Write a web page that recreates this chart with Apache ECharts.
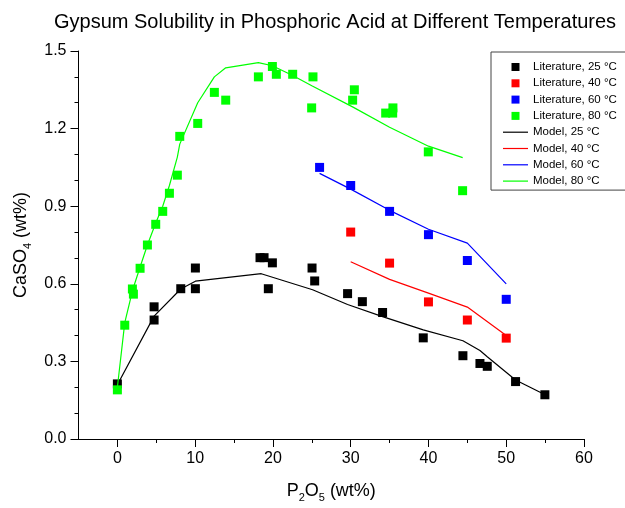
<!DOCTYPE html>
<html>
<head>
<meta charset="utf-8">
<script src="https://cdn.jsdelivr.net/npm/echarts@6/dist/echarts.min.js"></script>
<style>html,body{margin:0;padding:0;background:#fff}#c{width:625px;height:508px}</style>
</head>
<body>
<div id="c"></div>
<script>
// ---- data ----
const lit25X = [0, 4.72, 4.72, 8.15, 10.03, 10.03, 18.34, 18.86, 19.41, 19.93, 25.03, 25.37, 29.6, 31.5, 34.1, 39.33, 44.43, 46.62, 47.56, 51.2, 54.97];
const lit25Y = [0.213, 0.511, 0.46, 0.581, 0.661, 0.581, 0.701, 0.701, 0.581, 0.681, 0.661, 0.611, 0.562, 0.531, 0.489, 0.391, 0.322, 0.292, 0.281, 0.222, 0.171];
const lit40X = [30, 35, 40, 45, 50];
const lit40Y = [0.80, 0.68, 0.53, 0.46, 0.39];
const lit60X = [26, 30, 35, 40, 45, 50];
const lit60Y = [1.05, 0.98, 0.88, 0.79, 0.69, 0.54];
const lit80X = [0, 0.95, 1.93, 2.06, 2.92, 3.86, 4.93, 5.83, 6.69, 7.71, 8.02, 10.33, 12.47, 13.93, 18.13, 19.93, 20.44, 22.54, 25.15, 24.98, 30.47, 30.25, 34.5, 35.4, 35.43, 39.98, 44.39];
const lit80Y = [0.19, 0.44, 0.58, 0.56, 0.66, 0.75, 0.83, 0.88, 0.95, 1.02, 1.17, 1.22, 1.34, 1.31, 1.40, 1.44, 1.41, 1.41, 1.40, 1.28, 1.35, 1.31, 1.26, 1.26, 1.28, 1.11, 0.96];

const mod25X = [0, 4.72, 8.15, 10.03, 18.5, 25.1, 29.6, 34.1, 39.33, 44.43, 46.62, 47.56, 51.2, 55];
const mod25Y = [0.21, 0.475, 0.58, 0.61, 0.639, 0.577, 0.52, 0.473, 0.422, 0.38, 0.342, 0.318, 0.228, 0.171];
const mod40X = [30, 35, 40, 45, 50];
const mod40Y = [0.685, 0.617, 0.564, 0.51, 0.40];
const mod60X = [26, 30, 35, 40, 45, 50];
const mod60Y = [1.027, 0.966, 0.884, 0.811, 0.757, 0.60];
const mod80X = [0, 0.95, 2.0, 2.92, 3.86, 4.93, 5.83, 6.69, 7.71, 8.02, 10.33, 12.47, 13.93, 18.13, 19.93, 22.54, 25.0, 30.3, 35.0, 40.0, 44.4];
const mod80Y = [0.20, 0.45, 0.58, 0.665, 0.75, 0.835, 0.90, 0.98, 1.09, 1.14, 1.30, 1.40, 1.435, 1.455, 1.443, 1.405, 1.366, 1.283, 1.205, 1.132, 1.088];

const xMajorTicks = [0, 10, 20, 30, 40, 50, 60];
const xMinorTicks = [5, 15, 25, 35, 45, 55];

const names = ['Literature, 25 °C', 'Literature, 40 °C', 'Literature, 60 °C', 'Literature, 80 °C',
               'Model, 25 °C', 'Model, 40 °C', 'Model, 60 °C', 'Model, 80 °C'];
const colors = ['#000000', '#ff0000', '#0000ff', '#00ff00'];

function zip(xs, ys) { return xs.map((x, i) => [x, ys[i]]); }

const litSets = [[lit25X, lit25Y], [lit40X, lit40Y], [lit60X, lit60Y], [lit80X, lit80Y]];
const modSets = [[mod25X, mod25Y], [mod40X, mod40Y], [mod60X, mod60Y], [mod80X, mod80Y]];

const FONT = 'Liberation Sans, Arial, sans-serif';
const series = [];
litSets.forEach((s, i) => {
  series.push({
    name: names[i], type: 'scatter', symbol: 'rect', symbolSize: 9,
    itemStyle: { color: colors[i], opacity: 1 }, data: zip(s[0], s[1]), z: 2
  });
});
modSets.forEach((s, i) => {
  series.push({
    name: names[4 + i], type: 'line', symbol: 'none', showSymbol: false,
    lineStyle: { color: colors[i], width: 1.2 }, itemStyle: { color: colors[i] },
    data: zip(s[0], s[1]), z: 3
  });
});

const sq = 'path://M0,0H1V1H0Z';
const ln = 'path://M0,0H25V1.2H0Z';
const chart = echarts.init(document.getElementById('c'));
chart.setOption({
  animation: false,
  backgroundColor: '#fff',
  textStyle: { fontFamily: FONT },
  title: {
    text: 'Gypsum Solubility in Phosphoric Acid at Different Temperatures',
    left: 49, top: 7,
    textStyle: { fontSize: 20, fontWeight: 'normal', color: '#000', fontFamily: FONT }
  },
  grid: { left: 78.5, right: 41, top: 51, bottom: 63.5 },
  legend: {
    orient: 'vertical', left: 491, top: 52,
    padding: [9, 12, 3, 12], itemGap: 4.3,
    itemWidth: 25, itemHeight: 8,
    borderColor: '#444', borderWidth: 1, borderRadius: 0, backgroundColor: '#fff',
    textStyle: { fontSize: 11.5, color: '#000', fontFamily: FONT },
    data: names.map((n, i) => ({ name: n, icon: i < 4 ? sq : ln }))
  },
  xAxis: [{
    type: 'value', min: -5, max: 60, position: 'bottom',
    name: '{a|P}{s|2}{a|O}{s|5}{a| (wt%)}',
    nameLocation: 'middle', nameGap: 40,
    nameTextStyle: {
      rich: {
        a: { fontSize: 18, lineHeight: 24, color: '#000', fontFamily: FONT },
        s: { fontSize: 11, lineHeight: 11, verticalAlign: 'bottom', color: '#000', fontFamily: FONT }
      }
    },
    axisLine: { show: true, onZero: false, lineStyle: { color: '#000', width: 1 } },
    axisTick: { show: true, length: 8, customValues: xMajorTicks, lineStyle: { color: '#000' } },
    axisLabel: { customValues: xMajorTicks, fontSize: 16, color: '#000', margin: 12, fontFamily: FONT },
    splitLine: { show: false }
  }, {
    type: 'value', min: -5, max: 60, position: 'bottom',
    axisLine: { show: false, onZero: false },
    axisTick: { show: true, length: 4, customValues: xMinorTicks, lineStyle: { color: '#000' } },
    axisLabel: { show: false },
    splitLine: { show: false }
  }],
  yAxis: {
    type: 'value', min: 0, max: 1.5, interval: 0.3,
    name: '{a|CaSO}{s|4}{a| (wt%)}',
    nameLocation: 'middle', nameGap: 39,
    nameTextStyle: {
      rich: {
        a: { fontSize: 18, lineHeight: 24, color: '#000', fontFamily: FONT },
        s: { fontSize: 11, lineHeight: 11, verticalAlign: 'bottom', color: '#000', fontFamily: FONT }
      }
    },
    axisLine: { show: true, onZero: false, lineStyle: { color: '#000', width: 1 } },
    axisTick: { show: true, length: 8, lineStyle: { color: '#000' } },
    minorTick: { show: true, splitNumber: 3, length: 4, lineStyle: { color: '#000' } },
    axisLabel: { fontSize: 16, color: '#000', margin: 12, fontFamily: FONT, formatter: v => v.toFixed(1) },
    splitLine: { show: false }
  },
  series: series
});
</script>
</body>
</html>
